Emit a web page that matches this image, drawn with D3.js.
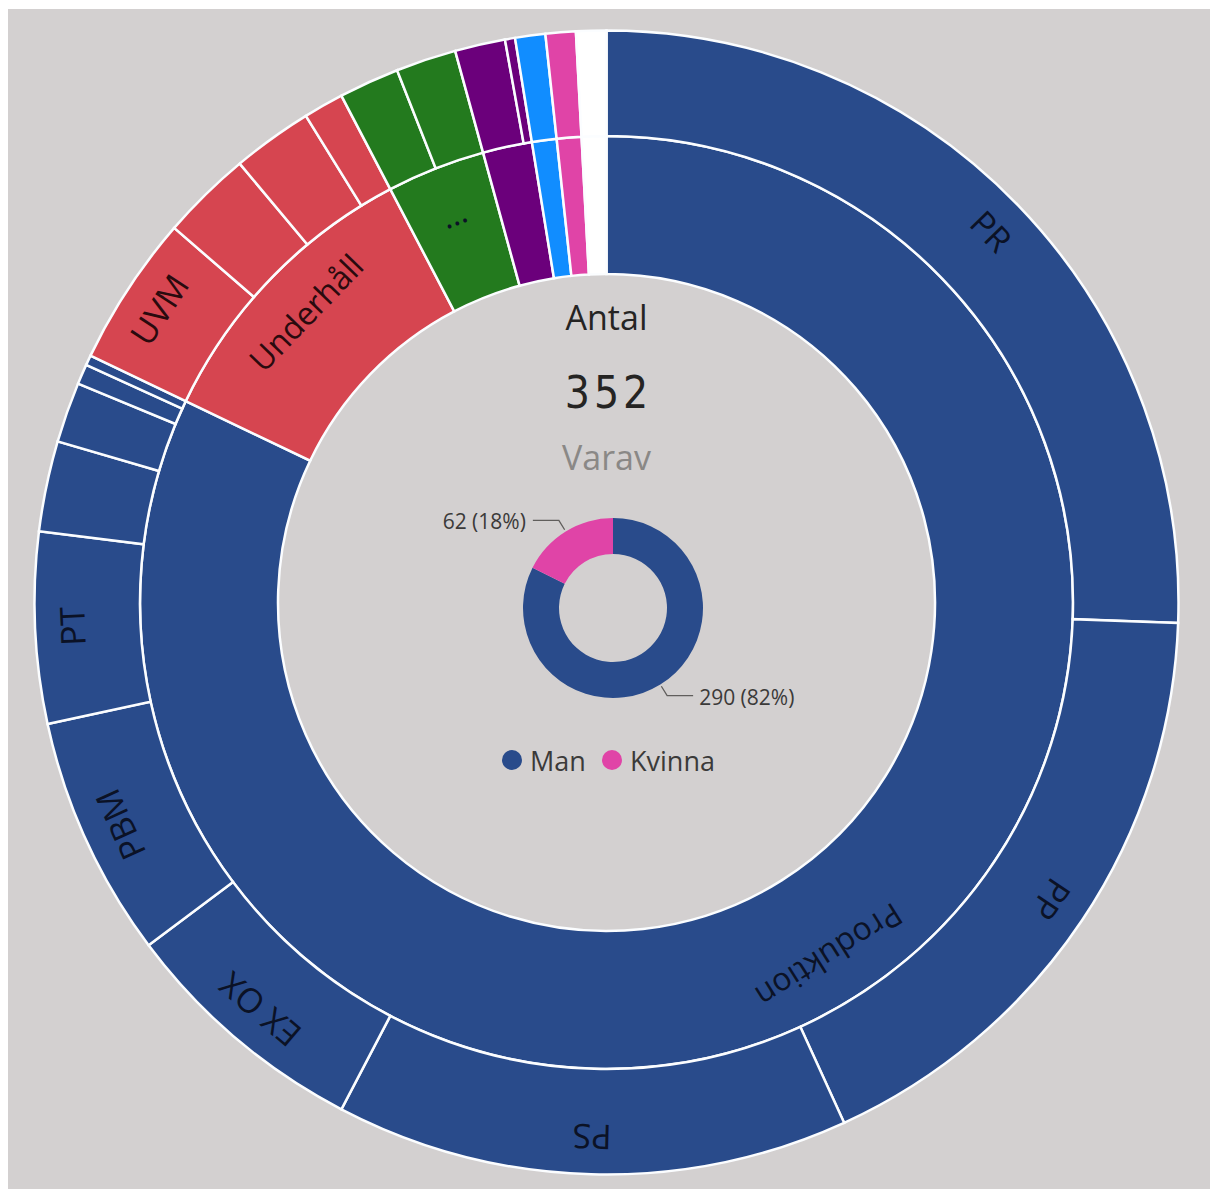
<!DOCTYPE html>
<html><head><meta charset="utf-8">
<script src="https://cdn.jsdelivr.net/npm/d3@7"></script>
<style>body{margin:0;background:#fff}svg{display:block}</style>
</head><body>
<svg id="c" width="1210" height="1189"></svg>
<script>
// ---- data ----
const groups      = ["Produktion","Underhåll","...","Grupp 4","Grupp 5","Grupp 6","Grupp 7"];
const groupLabels = ["Produktion","Underhåll","...","","","",""];
const subLabels = [
  ["PR","PP","PS","EX OX","PBM","PT","","","",""],
  ["UVM","","",""],
  ["",""],
  ["",""],
  [""],
  [""],
  [""]
];
const subValues = [
  [90,62,51,25,24,19,9,6,2,1],
  [15,9,8,4],
  [6,6],
  [5,1],
  [3],
  [3],
  [3]
];
const genders = ["Man","Kvinna"];
const genderValues = [290,62];
const cardTitle = "Antal";
const cardSub = "Varav";

// ---- styles ----
const groupColors = ["#294b8b","#d64550","#237a1e","#6b007b","#118dff","#e044a7","#ffffff"];
const genderColors = ["#294b8b","#e044a7"];
const FONT = "'Segoe UI','Open Sans','Noto Sans',sans-serif";

const svg = d3.select("#c");
svg.append("rect").attr("x",8).attr("y",9).attr("width",1202).attr("height",1180).attr("fill","#d3d0d0");

const cx = 606.5, cy = 602.5;
const g = svg.append("g").attr("transform",`translate(${cx},${cy})`);

const rootData = {name:"root", children: groups.map((n,i)=>({
  name:n, label:groupLabels[i], gi:i,
  children: subValues[i].map((v,j)=>({name:subLabels[i][j], label:subLabels[i][j], gi:i, value:v}))
}))};
const root = d3.hierarchy(rootData).sum(d=>d.value||0);
d3.partition().size([2*Math.PI, 3])(root);
const total = root.value;

const rScale = d3.scaleLinear().domain([1,2,3]).range([328.5,466.5,572]);
const arc = d3.arc()
  .startAngle(d=>d.x0).endAngle(d=>d.x1)
  .innerRadius(d=>rScale(d.y0)).outerRadius(d=>rScale(d.y1));

const nodes = root.descendants().filter(d=>d.depth>0);
g.selectAll("path.seg").data(nodes).join("path")
  .attr("class","seg")
  .attr("d",arc)
  .attr("fill",d=>groupColors[d.data.gi])
  .attr("stroke","#fbfdff").attr("stroke-width",2.5);

g.selectAll("text.lbl").data(nodes.filter(d=>d.data.label)).join("text")
  .attr("class","lbl")
  .attr("transform",d=>{
    const a=(d.x0+d.x1)/2, r=rScale(d.y0+0.65);
    return `translate(${r*Math.sin(a)},${-r*Math.cos(a)}) rotate(${a*180/Math.PI})`;
  })
  .attr("text-anchor","middle").attr("dominant-baseline","central")
  .attr("font-family",FONT).attr("font-size",d=>d.depth===1?32:34)
  .attr("fill",d=>d.data.gi===1?"#2a0a0e":"#0b1226")
  .text(d=>d.data.label);

// ---- card text ----
svg.append("text").attr("x",cx).attr("y",330).attr("text-anchor","middle")
  .attr("font-family",FONT).attr("font-size",34).attr("fill","#252423").text(cardTitle);
svg.append("text").attr("x",cx+2).attr("y",408).attr("text-anchor","middle")
  .attr("font-family","'DejaVu Sans Condensed','DejaVu Sans',sans-serif").attr("font-size",44).attr("letter-spacing",4).attr("fill","#252423")
  .text(d3.format("d")(total));
svg.append("text").attr("x",cx).attr("y",470).attr("text-anchor","middle")
  .attr("font-family",FONT).attr("font-size",34).attr("fill","#8a8886").text(cardSub);

// ---- small donut ----
const dcx = 613, dcy = 608;
const dg = svg.append("g").attr("transform",`translate(${dcx},${dcy})`);
const pie = d3.pie().sort(null).value(d=>d)(genderValues);
const darc = d3.arc().innerRadius(54).outerRadius(90);
dg.selectAll("path").data(pie).join("path").attr("d",darc)
  .attr("fill",(d,i)=>genderColors[i]);
const gTotal = d3.sum(genderValues);
pie.forEach((d,i)=>{
  const a=(d.startAngle+d.endAngle)/2;
  const p0=[92*Math.sin(a),-92*Math.cos(a)];
  const p1=[103*Math.sin(a),-103*Math.cos(a)];
  const right = Math.sin(a)>0;
  const p2=[p1[0]+(right?26:-26),p1[1]];
  dg.append("path").attr("d",d3.line()([p0,p1,p2])).attr("fill","none")
    .attr("stroke","#605e5c").attr("stroke-width",1.3);
  dg.append("text").attr("x",p2[0]+(right?6:-7)).attr("y",p2[1]+1)
    .attr("text-anchor",right?"start":"end").attr("dominant-baseline","central")
    .attr("font-family",FONT).attr("font-size",21).attr("fill","#3b3a39")
    .text(`${genderValues[i]} (${d3.format(".0%")(genderValues[i]/gTotal)})`);
});

// ---- legend ----
const lx=[512,612];
genders.forEach((n,i)=>{
  svg.append("circle").attr("cx",lx[i]).attr("cy",760).attr("r",10).attr("fill",genderColors[i]);
  svg.append("text").attr("x",lx[i]+18).attr("y",760).attr("dominant-baseline","central")
    .attr("font-family",FONT).attr("font-size",27).attr("fill","#3b3a39").text(n);
});
</script>
</body></html>
